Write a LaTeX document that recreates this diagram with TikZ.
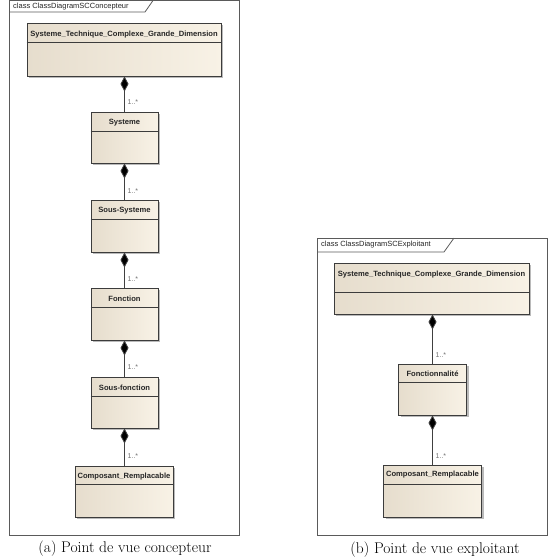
\documentclass[tikz,border=0pt]{standalone}
\usepackage{fontspec}
\newfontfamily\umlfont{Liberation Sans}
\usetikzlibrary{arrows.meta,shadows,calc}
\definecolor{framegray}{HTML}{5A5A5A}
\definecolor{boxleft}{HTML}{E6DDCD}
\definecolor{boxright}{HTML}{F8F2E6}
\definecolor{boxline}{HTML}{3C3C3C}
\definecolor{multgray}{HTML}{707070}
\tikzset{
  umlbox/.style={draw=boxline, line width=0.9pt, left color=boxleft, right color=boxright,
    drop shadow={shadow xshift=2pt, shadow yshift=-2pt, fill=black!45, opacity=0.6},
    inner sep=0pt},
  umlname/.style={font=\umlfont\bfseries\fontsize{7.6}{8}\selectfont, text=black!85, inner sep=0pt},
  headline/.style={draw=boxline, line width=0.7pt},
  comp/.style={draw=black!75, line width=0.8pt, -{Diamond[length=15pt,width=8pt,fill=black]}},
  mult/.style={font=\umlfont\fontsize{7}{7}\selectfont, text=multgray, inner sep=0pt},
  frame/.style={draw=framegray, line width=0.8pt},
  tabtext/.style={font=\umlfont\fontsize{7.5}{8}\selectfont, text=black!85, inner sep=0pt, anchor=west},
  captext/.style={font=\fontsize{15.5}{17}\selectfont, inner sep=0pt}
}
\begin{document}
\begin{tikzpicture}[x=1pt,y=-1pt]
\useasboundingbox (0,0) rectangle (553,557);
% ---------- left frame ----------
\draw[frame] (9,0.5) rectangle (239,535);
\draw[frame] (9,12) -- (145,12) -- (153,0.5);
\node[tabtext] (tabL) at (13,6.5) {class ClassDiagramSCConcepteur};

\node[umlbox, minimum width=194pt, minimum height=53pt] (stcL) at (124,49.5) {};
\node[umlname] (stcLt) at ($(stcL.north)+(0,11.5)$) {Systeme\_Technique\_Complexe\_Grande\_Dimension};
\draw[headline] ($(stcL.north west)+(0,20)$) -- ($(stcL.north east)+(0,20)$);

\node[umlbox, minimum width=67pt, minimum height=51pt] (sysL) at (124.5,137.5) {};
\node[umlname] (sysLt) at ($(sysL.north)+(0,11)$) {Systeme};
\draw[headline] ($(sysL.north west)+(0,20)$) -- ($(sysL.north east)+(0,20)$);

\node[umlbox, minimum width=67pt, minimum height=52pt] (ssL) at (124.5,226) {};
\node[umlname] (ssLt) at ($(ssL.north)+(0,11)$) {Sous-Systeme};
\draw[headline] ($(ssL.north west)+(0,20)$) -- ($(ssL.north east)+(0,20)$);

\node[umlbox, minimum width=67pt, minimum height=52pt] (fonL) at (124.5,314) {};
\node[umlname] (fonLt) at ($(fonL.north)+(0,11)$) {Fonction};
\draw[headline] ($(fonL.north west)+(0,20)$) -- ($(fonL.north east)+(0,20)$);

\node[umlbox, minimum width=67pt, minimum height=51pt] (sfL) at (124.5,402.5) {};
\node[umlname] (sfLt) at ($(sfL.north)+(0,11)$) {Sous-fonction};
\draw[headline] ($(sfL.north west)+(0,20)$) -- ($(sfL.north east)+(0,20)$);

\node[umlbox, minimum width=98pt, minimum height=51pt] (compL) at (124,491.5) {};
\node[umlname] (compLt) at ($(compL.north)+(0,11)$) {Composant\_Remplacable};
\draw[headline] ($(compL.north west)+(0,19)$) -- ($(compL.north east)+(0,19)$);

\draw[comp] (sysL.north) -- (sysL.north |- stcL.south);
\draw[comp] (ssL.north) -- (sysL.south);
\draw[comp] (fonL.north) -- (ssL.south);
\draw[comp] (sfL.north) -- (fonL.south);
\draw[comp] (compL.north -| sfL.south) -- (sfL.south);

\node[mult, anchor=west] (m1) at ($(sysL.north)+(3,-9)$) {1..*};
\node[mult, anchor=west] (m2) at ($(ssL.north)+(3,-8)$) {1..*};
\node[mult, anchor=west] (m3) at ($(fonL.north)+(3,-8)$) {1..*};
\node[mult, anchor=west] (m4) at ($(sfL.north)+(3,-9)$) {1..*};
\node[mult, anchor=west] (m5) at ($(compL.north -| sfL.south)+(3,-9)$) {1..*};

\node[captext] (capA) at (125,548.5) {(a) Point de vue concepteur};

% ---------- right frame ----------
\draw[frame] (317,238) rectangle (547,535);
\draw[frame] (317,252) -- (444,252) -- (454,238);
\node[tabtext] (tabR) at (321,245) {class ClassDiagramSCExploitant};

\node[umlbox, minimum width=195pt, minimum height=51pt] (stcR) at (431.5,288.5) {};
\node[umlname] (stcRt) at ($(stcR.north)+(0,11.5)$) {Systeme\_Technique\_Complexe\_Grande\_Dimension};
\draw[headline] ($(stcR.north west)+(0,30)$) -- ($(stcR.north east)+(0,30)$);

\node[umlbox, minimum width=68pt, minimum height=51pt] (fnR) at (432.5,389.5) {};
\node[umlname] (fnRt) at ($(fnR.north)+(0,10)$) {Fonctionnalité};
\draw[headline] ($(fnR.north west)+(0,19)$) -- ($(fnR.north east)+(0,19)$);

\node[umlbox, minimum width=98pt, minimum height=52pt] (compR) at (432.5,491) {};
\node[umlname] (compRt) at ($(compR.north)+(0,10)$) {Composant\_Remplacable};
\draw[headline] ($(compR.north west)+(0,20)$) -- ($(compR.north east)+(0,20)$);

\draw[comp] (fnR.north) -- (fnR.north |- stcR.south);
\draw[comp] (compR.north) -- (fnR.south);

\node[mult, anchor=west] (m6) at ($(fnR.north)+(3,-8)$) {1..*};
\node[mult, anchor=west] (m7) at ($(compR.north)+(3,-8)$) {1..*};

\node[captext] (capB) at (435,549.5) {(b) Point de vue exploitant};
\end{tikzpicture}
\end{document}
